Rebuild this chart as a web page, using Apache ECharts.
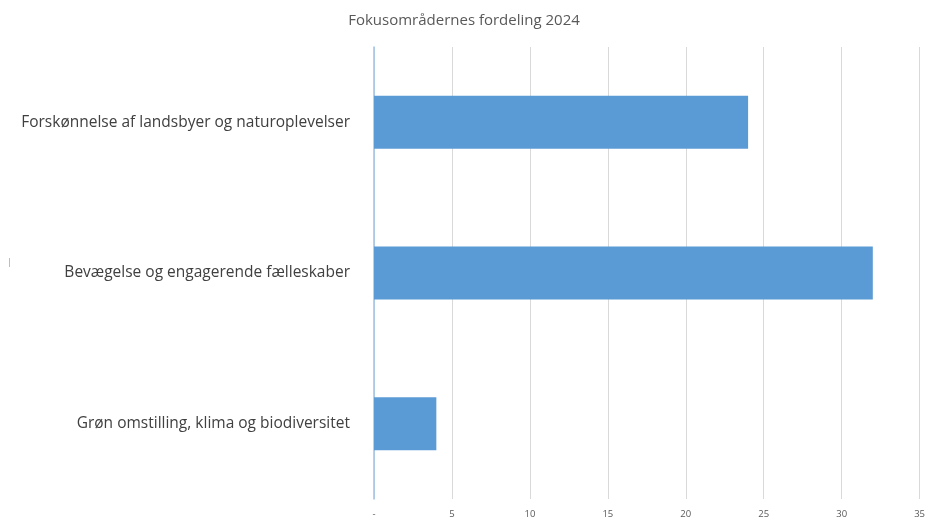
<!DOCTYPE html>
<html>
<head>
<meta charset="utf-8">
<script src="https://cdn.jsdelivr.net/npm/echarts@6/dist/echarts.min.js"></script>
<style>
  html, body { margin: 0; padding: 0; background: #fff; }
  #chart { width: 928px; height: 519px; }
</style>
</head>
<body>
<div id="chart"></div>
<script>
// kategorier (nederst først, som ECharts tegner dem)
var categories = [
  'Grøn omstilling, klima og biodiversitet',
  'Bevægelse og engagerende fælleskaber',
  'Forskønnelse af landsbyer og naturoplevelser'
];
var values = [4, 32, 24];
var tickLabels = { 0: '-', 5: '5', 10: '10', 15: '15', 20: '20', 25: '25', 30: '30', 35: '35' };

var chart = echarts.init(document.getElementById('chart'));
var option = {
  animation: false,
  title: {
    text: 'Fokusområdernes fordeling 2024',
    left: 'center',
    top: 8,
    textStyle: { fontFamily: 'Open Sans', fontSize: 15, fontWeight: 'normal', color: '#595959' }
  },
  graphic: [{
    type: 'text', left: 7, top: 258,
    style: { text: '|', fill: '#999', font: '9px Open Sans' }
  }],
  grid: { left: 374, right: 8, top: 47, bottom: 19 },
  xAxis: {
    type: 'value',
    min: 0, max: 35, interval: 5,
    axisLine: { show: false },
    axisTick: { show: false },
    splitLine: { lineStyle: { color: '#d9d9d9', width: 1 } },
    axisLabel: {
      margin: 10,
      fontFamily: 'Open Sans', fontSize: 9.5, color: '#595959',
      formatter: function (v) { return tickLabels[v]; }
    }
  },
  yAxis: {
    type: 'category',
    data: categories,
    axisLine: { show: true, lineStyle: { color: '#9dc3e6', width: 1.5 } },
    axisTick: { show: false },
    axisLabel: {
      margin: 24,
      fontFamily: 'Open Sans', fontSize: 15.5, color: '#404040'
    }
  },
  series: [{
    type: 'bar',
    data: values,
    barWidth: 53,
    itemStyle: { color: '#5b9bd5' }
  }]
};
chart.setOption(option);
</script>
</body>
</html>
